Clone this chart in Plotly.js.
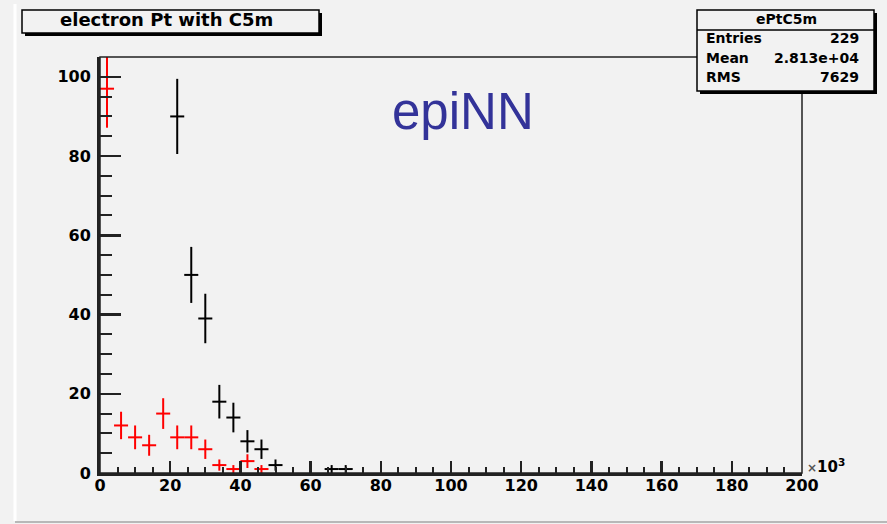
<!DOCTYPE html>
<html>
<head>
<meta charset="utf-8">
<script src="https://cdn.plot.ly/plotly-3.0.1.min.js"></script>
<style>
  html, body { margin: 0; padding: 0; background: #f2f2f2; }
  #plot { width: 887px; height: 524px; }
</style>
</head>
<body>
<div id="plot"></div>
<script>
// Electron Pt histograms (bin centres in units of 10^3, 4-wide bins)
const blackBins = [22, 26, 30, 34, 38, 42, 46, 50, 66, 70];
const blackCounts = [90, 50, 39, 18, 14, 8, 6, 2, 1, 1];
const redBins = [2, 6, 10, 14, 18, 22, 26, 30, 34, 38, 42, 46];
const redCounts = [97, 12, 9, 7, 15, 9, 9, 6, 2, 1, 3, 1];

const histName = "ePtC5m";
const statLabels = ["Entries", "Mean", "RMS"];
const statValues = ["229", "2.813e+04", "7629"];
const xTickVals = [0, 20, 40, 60, 80, 100, 120, 140, 160, 180, 200];
const yTickVals = [0, 20, 40, 60, 80, 100];

// plot-area pixel box, used to place boxes and labels around the frame
const L = 100, R = 802, T = 57, B = 473;
const px = x => (x - L) / (R - L);
const py = y => (B - y) / (B - T);

const boldFont = { family: "DejaVu Sans, Liberation Sans, Arial", weight: 700, color: "#000" };

function histTrace(x, y, color) {
  return {
    type: "scatter",
    mode: "markers",
    x: x, y: y,
    marker: { color: "rgba(0,0,0,0)", size: 2 },
    error_x: { type: "constant", value: 2, width: 0, thickness: 2, color: color },
    error_y: { type: "sqrt", width: 0, thickness: 2, color: color },
    hoverinfo: "x+y",
    showlegend: false
  };
}

const traces = [
  histTrace(blackBins, blackCounts, "#000000"),
  histTrace(redBins, redCounts, "#ff0000")
];

const shapes = [
  // frame
  { type: "rect", xref: "paper", yref: "paper", x0: 0, x1: 1, y0: 0, y1: 1,
    line: { color: "#222", width: 1.5 }, layer: "above" },
  // title box shadow + box
  { type: "rect", xref: "paper", yref: "paper", x0: px(25), x1: px(322), y0: py(13), y1: py(36),
    fillcolor: "#000", line: { width: 0 }, layer: "above" },
  { type: "rect", xref: "paper", yref: "paper", x0: px(22), x1: px(319), y0: py(10), y1: py(33),
    fillcolor: "#f2f2f2", line: { color: "#000", width: 1.5 }, layer: "above" },
  // stats box shadow + box
  { type: "rect", xref: "paper", yref: "paper", x0: px(700), x1: px(877), y0: py(13), y1: py(94),
    fillcolor: "#000", line: { width: 0 }, layer: "above" },
  { type: "rect", xref: "paper", yref: "paper", x0: px(697), x1: px(874), y0: py(10), y1: py(91),
    fillcolor: "#f2f2f2", line: { color: "#000", width: 1.5 }, layer: "above" },
  { type: "line", xref: "paper", yref: "paper", x0: px(697), x1: px(874), y0: py(30), y1: py(30),
    line: { color: "#000", width: 1.5 }, layer: "above" },
  // canvas edges
  { type: "line", xref: "paper", yref: "paper", x0: px(15), x1: px(15), y0: py(4), y1: py(521),
    line: { color: "#ffffff", width: 3 } },
  { type: "line", xref: "paper", yref: "paper", x0: px(15), x1: px(887), y0: py(522), y1: py(522),
    line: { color: "#b8b8b8", width: 2 } }
];

const annotations = [
  { xref: "paper", yref: "paper", x: px(166), y: py(20), text: "electron Pt with C5m",
    showarrow: false, xanchor: "center", yanchor: "middle",
    font: Object.assign({}, boldFont, { size: 18 }) },
  { xref: "paper", yref: "paper", x: px(786), y: py(19), text: histName,
    showarrow: false, xanchor: "center", yanchor: "middle",
    font: Object.assign({}, boldFont, { size: 14 }) },
  { xref: "paper", yref: "paper", x: px(463), y: py(112), text: "epiNN",
    showarrow: false, xanchor: "center", yanchor: "middle",
    font: { family: "Liberation Sans, Arial", size: 51, color: "#333399" } },
  { xref: "paper", yref: "paper", x: px(805), y: py(466), text: "<span style='font-size:12px;color:#555'>×</span>10<sup>3</sup>",
    showarrow: false, xanchor: "left", yanchor: "middle",
    font: Object.assign({}, boldFont, { size: 15 }) }
];

statLabels.forEach((lab, i) => {
  const yy = 38 + i * 19.5;
  annotations.push({ xref: "paper", yref: "paper", x: px(704), y: py(yy), text: lab,
    showarrow: false, xanchor: "left", yanchor: "middle",
    font: Object.assign({}, boldFont, { size: 14 }) });
  annotations.push({ xref: "paper", yref: "paper", x: px(861), y: py(yy), text: statValues[i],
    showarrow: false, xanchor: "right", yanchor: "middle",
    font: Object.assign({}, boldFont, { size: 14 }) });
});

const layout = {
  width: 887, height: 524,
  margin: { l: L, r: 887 - R, t: T, b: 524 - B, pad: 0 },
  paper_bgcolor: "#f2f2f2",
  plot_bgcolor: "#f2f2f2",
  showlegend: false,
  xaxis: {
    range: [0, 200], tickvals: xTickVals, ticktext: xTickVals.map(String),
    ticks: "inside", ticklen: 12, tickwidth: 2.5, tickcolor: "#222",
    minor: { dtick: 5, ticks: "inside", ticklen: 6, tickwidth: 2, tickcolor: "#222" },
    showline: true, linecolor: "#222", linewidth: 3,
    showgrid: false, zeroline: false,
    tickfont: Object.assign({}, boldFont, { size: 16 }),
    ticklabelstandoff: -4
  },
  yaxis: {
    range: [0, 105], tickvals: yTickVals, ticktext: yTickVals.map(String),
    ticks: "inside", ticklen: 21, tickwidth: 2.5, tickcolor: "#222",
    minor: { dtick: 5, ticks: "inside", ticklen: 12, tickwidth: 2, tickcolor: "#222" },
    showline: true, linecolor: "#222", linewidth: 3,
    showgrid: false, zeroline: false,
    tickfont: Object.assign({}, boldFont, { size: 16 }),
    ticklabelstandoff: 3
  },
  shapes: shapes,
  annotations: annotations
};

Plotly.newPlot("plot", traces, layout, { displayModeBar: false, staticPlot: true });
</script>
</body>
</html>
